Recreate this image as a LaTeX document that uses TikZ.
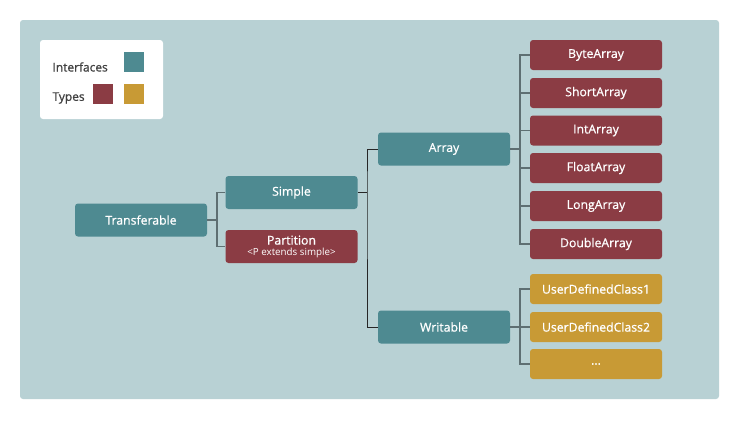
\documentclass[tikz,border=0pt]{standalone}
\usepackage{fontspec}
\setmainfont{Open Sans}
\newfontfamily\semi{Open Sans}[FakeBold=0.8]
\definecolor{panel}{HTML}{B8D1D4}
\definecolor{iface}{HTML}{4E8A91}
\definecolor{rtype}{HTML}{8B3C44}
\definecolor{gtype}{HTML}{C89A35}
\definecolor{wire}{HTML}{5E6F72}
\tikzset{
  box/.style={rounded corners=3bp, text=white, font=\fontsize{12.3}{14}\selectfont\semi,
    minimum width=132bp, minimum height=33bp, inner sep=0pt, align=center},
  leaf/.style={box, minimum height=30bp},
  interface/.style={box, fill=iface},
  rtypebox/.style={leaf, fill=rtype},
  gtypebox/.style={leaf, fill=gtype},
  legend/.style={anchor=west, text=black!75, font=\fontsize{12}{14}\selectfont\semi},
  link/.style={wire, line width=1.5bp},
  thinlink/.style={black!85, line width=0.9bp}
}
\begin{document}
\begin{tikzpicture}[x=1bp, y=-1bp]
  \useasboundingbox[fill=white] (0,0) rectangle (740,420);
  \fill[panel, rounded corners=3bp] (20,20) rectangle (719,399);

  \fill[white, rounded corners=3bp] (40,40) rectangle (163,119);
  \node[legend] (li) at (49,67) {Interfaces};
  \node[legend] (lt) at (49,98) {Types};
  \fill[iface] (124,52) rectangle (144,72);
  \fill[rtype] (93,84) rectangle (113,104);
  \fill[gtype] (124,84) rectangle (144,104);

  \node[interface] (trans) at (141,220) {Transferable};
  \node[interface] (simple) at (291.5,192.5) {Simple};
  \node[box, fill=rtype] (part) at (291.5,246.5) {Partition\\[-3.5bp]{\fontsize{9.8}{11}\selectfont\rmfamily<P extends simple>}};
  \node[interface] (array) at (444,149) {Array};
  \node[interface] (writ) at (444,327) {Writable};

  \node[rtypebox] (byte) at (596,55) {ByteArray};
  \node[rtypebox] (short) at (596,93) {ShortArray};
  \node[rtypebox] (int) at (596,130.5) {IntArray};
  \node[rtypebox] (float) at (596,168) {FloatArray};
  \node[rtypebox] (long) at (596,206) {LongArray};
  \node[rtypebox] (double) at (596,244) {DoubleArray};
  \node[gtypebox] (udc1) at (596,289) {UserDefinedClass1};
  \node[gtypebox] (udc2) at (596,327) {UserDefinedClass2};
  \node[gtypebox] (more) at (596,364) {...};

  \coordinate (tj) at (217,220);
  \coordinate (sj) at (367,192.5);
  \coordinate (aj) at (520,149);
  \coordinate (wj) at (520,327);

  \draw[link] (trans.east) -- (tj);
  \draw[link] (simple.west) -| (tj) |- (part.west);
  \draw[thinlink] (simple.east) -- (sj);
  \draw[thinlink] (array.west) -| (sj) |- (writ.west);
  \draw[link] (array.east) -- (aj);
  \foreach \n in {byte,short,int,float,long,double}
    \draw[link] (aj) |- (\n.west);
  \draw[link] (writ.east) -- (wj);
  \foreach \n in {udc1,udc2,more}
    \draw[link] (wj) |- (\n.west);
\end{tikzpicture}
\end{document}
